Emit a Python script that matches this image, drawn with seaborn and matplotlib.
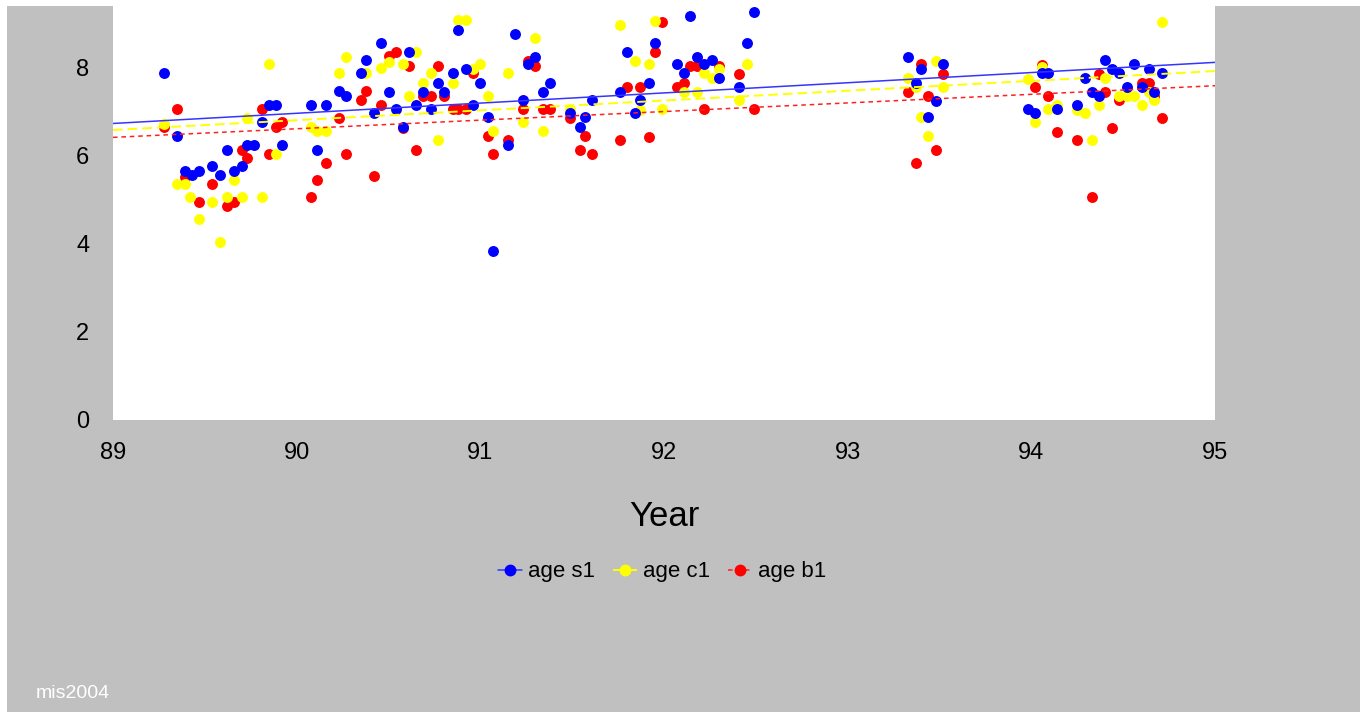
import numpy as np
import pandas as pd
import seaborn as sns
import matplotlib
matplotlib.use("Agg")
import matplotlib.pyplot as plt
from matplotlib.lines import Line2D
from matplotlib.patches import Rectangle

# ---- data -------------------------------------------------------------
s1_year = [89.28, 89.35, 89.39, 89.43, 89.47, 89.54, 89.58, 89.62, 89.66, 89.70,
           89.73, 89.77, 89.81, 89.85, 89.89, 89.92, 90.08, 90.11, 90.16, 90.23,
           90.27, 90.35, 90.38, 90.42, 90.46, 90.50, 90.54, 90.58, 90.61, 90.65,
           90.69, 90.73, 90.77, 90.80, 90.85, 90.88, 90.92, 90.96, 91.00, 91.04,
           91.07, 91.15, 91.19, 91.23, 91.26, 91.30, 91.34, 91.38, 91.49, 91.54,
           91.57, 91.61, 91.76, 91.80, 91.84, 91.87, 91.92, 91.95, 92.07, 92.11,
           92.14, 92.18, 92.22, 92.26, 92.30, 92.41, 92.45, 92.49, 93.33, 93.37,
           93.40, 93.44, 93.48, 93.52, 93.98, 94.02, 94.06, 94.09, 94.14, 94.25,
           94.29, 94.33, 94.37, 94.40, 94.44, 94.48, 94.52, 94.56, 94.60, 94.64,
           94.67, 94.71]
s1_age = [7.86, 6.44, 5.65, 5.55, 5.65, 5.76, 5.55, 6.13, 5.65, 5.76,
          6.24, 6.24, 6.75, 7.14, 7.14, 6.24, 7.14, 6.13, 7.14, 7.46,
          7.34, 7.86, 8.16, 6.95, 8.55, 7.44, 7.06, 6.65, 8.35, 7.14,
          7.44, 7.06, 7.65, 7.44, 7.86, 8.85, 7.95, 7.14, 7.65, 6.86,
          3.84, 6.24, 8.76, 7.25, 8.06, 8.23, 7.44, 7.65, 6.95, 6.65,
          6.86, 7.25, 7.44, 8.35, 6.95, 7.25, 7.65, 8.55, 8.06, 7.86,
          9.16, 8.23, 8.06, 8.16, 7.76, 7.54, 8.55, 9.25, 8.23, 7.65,
          7.95, 6.86, 7.24, 8.06, 7.06, 6.95, 7.86, 7.86, 7.06, 7.13,
          7.76, 7.44, 7.34, 8.16, 7.95, 7.86, 7.54, 8.06, 7.54, 7.95,
          7.44, 7.86]

c1_year = [89.28, 89.35, 89.39, 89.42, 89.47, 89.54, 89.58, 89.62, 89.66, 89.70,
           89.73, 89.81, 89.85, 89.89, 90.08, 90.11, 90.16, 90.23, 90.27, 90.38,
           90.46, 90.50, 90.54, 90.58, 90.61, 90.65, 90.69, 90.73, 90.77, 90.85,
           90.88, 90.92, 90.96, 91.00, 91.04, 91.07, 91.15, 91.23, 91.30, 91.34,
           91.49, 91.76, 91.84, 91.87, 91.92, 91.95, 91.99, 92.11, 92.18, 92.22,
           92.26, 92.30, 92.41, 92.45, 93.33, 93.37, 93.40, 93.44, 93.48, 93.52,
           93.98, 94.02, 94.06, 94.09, 94.14, 94.25, 94.29, 94.33, 94.37, 94.40,
           94.48, 94.52, 94.56, 94.60, 94.64, 94.67, 94.71]
c1_age = [6.72, 5.35, 5.35, 5.05, 4.55, 4.94, 4.04, 5.05, 5.44, 5.05,
          6.85, 5.05, 8.06, 6.04, 6.65, 6.56, 6.56, 7.86, 8.23, 7.86,
          7.97, 8.12, 7.03, 8.06, 7.34, 8.35, 7.65, 7.86, 6.35, 7.65,
          9.07, 9.07, 7.95, 8.06, 7.34, 6.55, 7.86, 6.75, 8.65, 6.55,
          7.06, 8.95, 8.14, 7.03, 8.06, 9.05, 7.04, 7.44, 7.44, 7.86,
          7.76, 7.95, 7.25, 8.06, 7.76, 7.54, 6.86, 6.44, 8.14, 7.54,
          7.74, 6.75, 8.01, 7.04, 7.13, 7.03, 6.95, 6.35, 7.13, 7.76,
          7.34, 7.34, 7.34, 7.13, 7.44, 7.25, 9.03]

b1_year = [89.28, 89.35, 89.39, 89.47, 89.54, 89.62, 89.66, 89.70, 89.73, 89.81,
           89.85, 89.89, 89.92, 90.08, 90.11, 90.16, 90.23, 90.27, 90.35, 90.38,
           90.42, 90.46, 90.50, 90.54, 90.58, 90.61, 90.65, 90.69, 90.73, 90.77,
           90.80, 90.85, 90.88, 90.92, 90.96, 91.04, 91.07, 91.15, 91.23, 91.26,
           91.30, 91.34, 91.38, 91.49, 91.54, 91.57, 91.61, 91.76, 91.80, 91.87,
           91.92, 91.95, 91.99, 92.07, 92.11, 92.14, 92.18, 92.22, 92.30, 92.41,
           92.49, 93.33, 93.37, 93.40, 93.44, 93.48, 93.52, 94.02, 94.06, 94.09,
           94.14, 94.25, 94.33, 94.37, 94.40, 94.44, 94.48, 94.60, 94.64, 94.67,
           94.71]
b1_age = [6.65, 7.04, 5.51, 4.94, 5.35, 4.84, 4.94, 6.13, 5.93, 7.04,
          6.04, 6.65, 6.75, 5.05, 5.44, 5.83, 6.84, 6.04, 7.25, 7.46,
          5.53, 7.14, 8.25, 8.35, 6.61, 8.03, 6.13, 7.34, 7.34, 8.03,
          7.34, 7.04, 7.04, 7.04, 7.86, 6.44, 6.04, 6.35, 7.04, 8.14,
          8.03, 7.04, 7.04, 6.84, 6.13, 6.44, 6.04, 6.35, 7.55, 7.55,
          6.42, 8.35, 9.03, 7.54, 7.63, 8.03, 8.03, 7.04, 8.03, 7.84,
          7.04, 7.44, 5.83, 8.06, 7.34, 6.13, 7.84, 7.54, 8.05, 7.34,
          6.52, 6.35, 5.05, 7.84, 7.44, 6.63, 7.25, 7.63, 7.63, 7.34,
          6.84]

series_labels = ["age s1", "age c1", "age b1"]
x_ticks = [89, 90, 91, 92, 93, 94, 95]
y_ticks = [0, 2, 4, 6, 8]

# ---- styling ----------------------------------------------------------
sns.set_theme(style="white")
plt.rcParams["font.family"] = ["Liberation Sans", "DejaVu Sans"]
plt.rcParams["text.color"] = "black"
plt.rcParams["axes.labelcolor"] = "black"

W, H = 1360, 712
fig = plt.figure(figsize=(W / 100, H / 100), dpi=100)
fig.patch.set_facecolor("white")

# grey panel behind the chart
fig.patches.append(Rectangle((7 / W, 0), 1 - 7 / W, (H - 6) / H,
                             transform=fig.transFigure, facecolor="#c0c0c0",
                             edgecolor="none", zorder=0))

ax = fig.add_axes([113 / W, 1 - 420 / H, 1102 / W, 420 / H])
ax.set_facecolor("white")
ax.set_zorder(1)
ax.set_xlim(89, 95)
ax.set_ylim(0, 9.52)

styles = [
    dict(year=s1_year, age=s1_age, color="#0000ff", line="#3535ff",
         ls="-", lw=1.1, z=2.6),
    dict(year=c1_year, age=c1_age, color="#ffff00", line="#ffff00",
         ls=(0, (5, 2.5)), lw=1.4, z=2.5),
    dict(year=b1_year, age=b1_age, color="#ff0000", line="#ff2020",
         ls=(0, (3, 2.5)), lw=1.1, z=2.4),
]

for st in styles:
    df = pd.DataFrame({"Year": st["year"], "age": st["age"]})
    sns.regplot(data=df, x="Year", y="age", ax=ax, ci=None, truncate=False,
                scatter_kws=dict(s=62, color=st["color"], linewidths=0,
                                 alpha=1, zorder=st["z"]),
                line_kws=dict(color=st["line"], linestyle=st["ls"],
                              linewidth=st["lw"], zorder=4))

ax.set_xlim(89, 95)
ax.set_ylim(0, 9.52)
ax.set_xticks(x_ticks)
ax.set_xticklabels([str(v) for v in x_ticks])
ax.set_yticks(y_ticks)
ax.set_yticklabels([str(v) for v in y_ticks])
ax.tick_params(axis="both", length=0, labelsize=17, colors="black")
ax.tick_params(axis="y", pad=17)
ax.tick_params(axis="x", pad=16)
for sp in ax.spines.values():
    sp.set_visible(False)

ax.set_ylabel("")
ax.set_xlabel("Year", fontsize=25, color="black")
ax.xaxis.label.set_va("baseline")
ax.xaxis.set_label_coords(0.5, (420 - 526) / 420)

handles = [Line2D([0], [0], color=st["line"], linestyle=st["ls"], linewidth=st["lw"],
                  marker="o", markersize=7.5, markerfacecolor=st["color"],
                  markeredgecolor=st["color"])
           for st in styles]
leg = fig.legend(handles, series_labels, loc="center",
                 bbox_to_anchor=(662 / W, 1 - 572 / H),
                 ncol=3, frameon=False, fontsize=16, handlelength=1.1,
                 handletextpad=0.25, columnspacing=0.8)
for t in leg.get_texts():
    t.set_color("black")

fig.text(36 / W, 1 - 698 / H, "mis2004", color="white", fontsize=14,
         ha="left", va="baseline")

fig.savefig("out.png", dpi=100, facecolor=fig.get_facecolor())
